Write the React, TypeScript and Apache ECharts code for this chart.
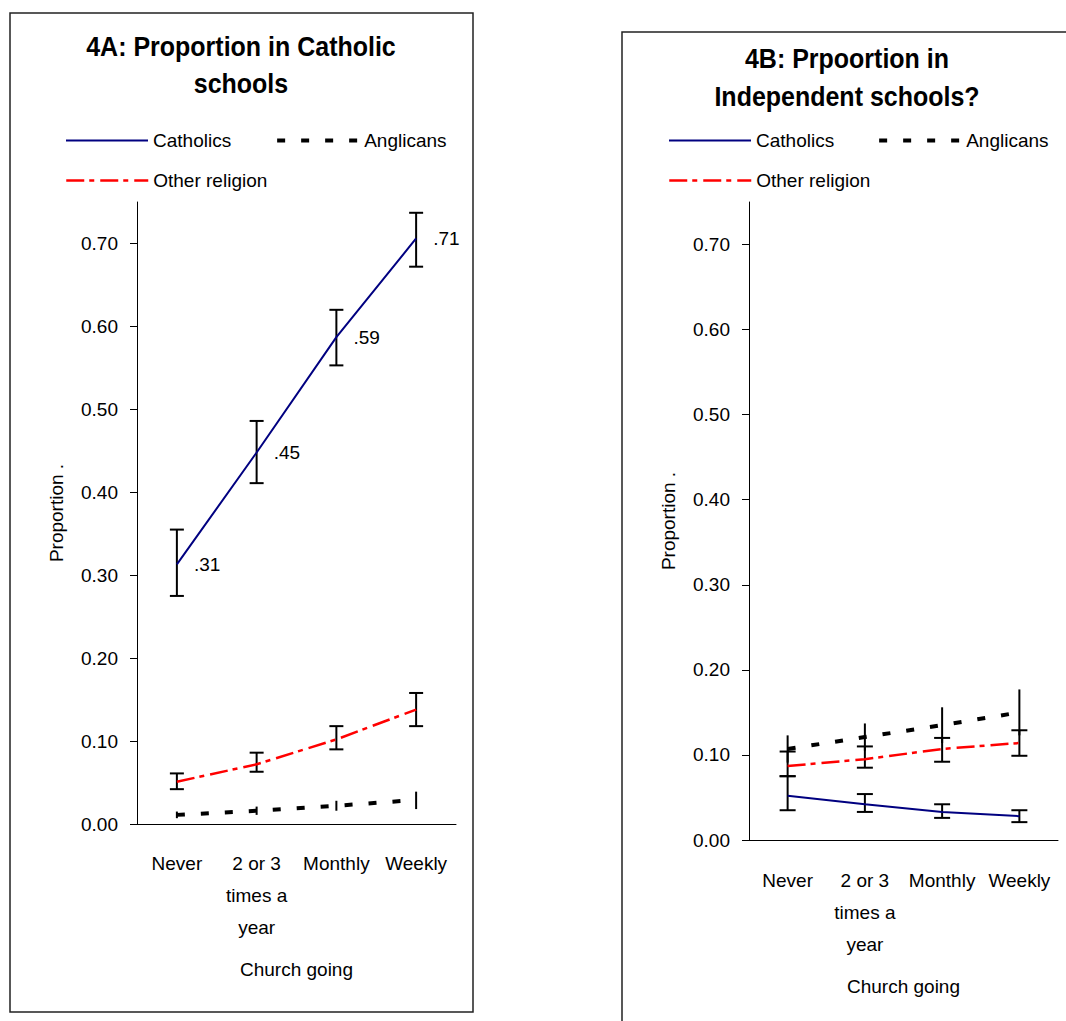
import React, { useEffect, useRef } from 'react';
import * as echarts from 'echarts';

const categories = ['Never', '2 or 3\ntimes a\nyear', 'Monthly', 'Weekly'];
const yTicks = [0, 0.1, 0.2, 0.3, 0.4, 0.5, 0.6, 0.7];
const titleA = '4A: Proportion in Catholic\nschools';
const titleB = '4B: Prpoortion in\nIndependent schools?';
const yName = 'Proportion .';
const xName = 'Church going';

// 4A: Catholic schools
const catholicA = [0.313, 0.448, 0.587, 0.706];
const catholicALow = [0.275, 0.411, 0.553, 0.672];
const catholicAHigh = [0.355, 0.486, 0.62, 0.737];
const anglicanA = [0.011, 0.016, 0.022, 0.029];
const anglicanALow = [0.007, 0.011, 0.016, 0.018];
const anglicanAHigh = [0.015, 0.021, 0.028, 0.039];
const otherA = [0.051, 0.072, 0.102, 0.138];
const otherALow = [0.042, 0.063, 0.09, 0.118];
const otherAHigh = [0.061, 0.086, 0.118, 0.158];

// 4B: Independent schools
const catholicB = [0.052, 0.042, 0.033, 0.028];
const catholicBLow = [0.035, 0.033, 0.026, 0.021];
const catholicBHigh = [0.075, 0.054, 0.042, 0.035];
const anglicanB = [0.107, 0.121, 0.135, 0.15];
const anglicanBLow = [0.091, 0.105, 0.114, 0.123];
const anglicanBHigh = [0.123, 0.137, 0.156, 0.177];
const otherB = [0.087, 0.095, 0.107, 0.114];
const otherBLow = [0.075, 0.085, 0.092, 0.099];
const otherBHigh = [0.104, 0.11, 0.12, 0.129];

const FONT = "'Liberation Sans', Arial, sans-serif";

const catholicStyle = { color: '#000080', width: 2, type: 'solid' as any };
const anglicanStyle = { color: '#000000', width: 4, type: [8, 16] as any };
const otherStyle = { color: '#ff0000', width: 2.5, type: [18, 5, 5, 6] as any };

function errorBar(cap: number) {
  return (params: any, api: any) => {
    const x = api.value(0);
    const lo = api.coord([x, api.value(1)]);
    const hi = api.coord([x, api.value(2)]);
    const style = { stroke: '#000', lineWidth: 2 };
    const children: any[] = [
      { type: 'line', shape: { x1: lo[0], y1: lo[1], x2: hi[0], y2: hi[1] }, style },
    ];
    if (cap > 0) {
      children.push({ type: 'line', shape: { x1: lo[0] - cap, y1: lo[1], x2: lo[0] + cap, y2: lo[1] }, style });
      children.push({ type: 'line', shape: { x1: hi[0] - cap, y1: hi[1], x2: hi[0] + cap, y2: hi[1] }, style });
    }
    return { type: 'group', children };
  };
}

function errData(low: number[], high: number[]) {
  return categories.map((_, i) => [i, low[i], high[i]]);
}

function xAxisCfg(gridIndex: number, margin: number, nameGap: number) {
  return {
    gridIndex,
    type: 'category',
    data: categories,
    axisLine: { lineStyle: { color: '#000', width: 1 } },
    axisTick: { length: 8, lineStyle: { color: '#000' } },
    axisLabel: { color: '#000', fontSize: 19, fontFamily: FONT, lineHeight: 32, margin, interval: 0 },
    splitLine: { show: false },
    name: xName,
    nameLocation: 'middle',
    nameGap,
    nameTextStyle: { color: '#000', fontSize: 19, fontFamily: FONT },
  };
}

function yAxisCfg(gridIndex: number) {
  return {
    gridIndex,
    type: 'value',
    min: 0,
    max: 0.75,
    interval: 0.1,
    axisLine: { show: true, lineStyle: { color: '#000', width: 1 } },
    axisTick: { show: true, length: 7, customValues: yTicks, lineStyle: { color: '#000' } },
    axisLabel: {
      color: '#000',
      fontSize: 19,
      fontFamily: FONT,
      margin: 19,
      customValues: yTicks,
      formatter: (v: number) => v.toFixed(2),
    },
    splitLine: { show: false },
    name: yName,
    nameLocation: 'middle',
    nameGap: 71,
    nameRotate: 90,
    nameTextStyle: { color: '#000', fontSize: 19, fontFamily: FONT },
  };
}

function lineSeries(name: string, data: number[], idx: number, lineStyle: any, extra: any = {}) {
  return {
    name,
    type: 'line',
    xAxisIndex: idx,
    yAxisIndex: idx,
    data,
    symbol: 'none',
    lineStyle,
    itemStyle: { color: lineStyle.color },
    z: 3,
    ...extra,
  };
}

function errSeries(low: number[], high: number[], idx: number, cap: number) {
  return {
    type: 'custom',
    xAxisIndex: idx,
    yAxisIndex: idx,
    renderItem: errorBar(cap),
    encode: { x: 0, y: [1, 2] },
    data: errData(low, high),
    z: 2,
  };
}

const legendBase = {
  itemWidth: 82,
  itemHeight: 14,
  padding: 0,
  selectedMode: false,
  textStyle: { fontSize: 19, color: '#000', fontFamily: FONT },
  lineStyle: { width: 'inherit' },
  itemStyle: { opacity: 0, color: 'rgba(0,0,0,0)', borderWidth: 0 },
};

export default function App() {
  const ref = useRef<HTMLDivElement>(null);
  useEffect(() => {
    if (!ref.current) return;
    const chart = echarts.init(ref.current, undefined, { renderer: 'svg' });
    const titleStyle = {
      fontSize: 25,
      fontWeight: 'bold',
      fontFamily: FONT,
      fill: '#000',
      align: 'center',
      verticalAlign: 'top',
    };
    const option: any = {
      animation: false,
      backgroundColor: '#fff',
      grid: [
        { left: 137, top: 202, width: 319, height: 622, containLabel: false },
        { left: 749, top: 202, width: 309, height: 638, containLabel: false },
      ],
      xAxis: [xAxisCfg(0, 23, 136), xAxisCfg(1, 24, 137)],
      yAxis: [yAxisCfg(0), yAxisCfg(1)],
      legend: [
        { ...legendBase, left: 65, top: 131, itemGap: 44, data: ['Catholics', 'Anglicans'] },
        { ...legendBase, left: 65, top: 171, data: ['Other religion'] },
        { ...legendBase, left: 668, top: 131, itemGap: 43, data: ['Catholics', 'Anglicans'] },
        { ...legendBase, left: 668, top: 171, data: ['Other religion'] },
      ],
      graphic: [
        {
          type: 'rect',
          shape: { x: 10, y: 13, width: 463, height: 999 },
          style: { fill: 'none', stroke: '#222', lineWidth: 1.5 },
          silent: true,
        },
        {
          type: 'rect',
          shape: { x: 622, y: 32, width: 600, height: 1100 },
          style: { fill: 'none', stroke: '#222', lineWidth: 1.5 },
          silent: true,
        },
        {
          type: 'text',
          x: 241,
          y: 28,
          scaleY: 1.1,
          style: { ...titleStyle, text: titleA, lineHeight: 33.6 },
        },
        {
          type: 'text',
          x: 847,
          y: 40,
          scaleY: 1.1,
          style: { ...titleStyle, text: titleB, lineHeight: 34.5 },
        },
      ],
      series: [
        errSeries(catholicALow, catholicAHigh, 0, 7),
        errSeries(otherALow, otherAHigh, 0, 7),
        errSeries(anglicanALow, anglicanAHigh, 0, 0),
        lineSeries('Catholics', catholicA, 0, catholicStyle, {
          symbol: 'circle',
          symbolSize: 2,
          showSymbol: true,
          itemStyle: { color: 'rgba(0,0,128,0)', borderWidth: 0 },
          label: {
            show: true,
            position: 'right',
            distance: 16,
            color: '#000',
            fontSize: 19,
            fontFamily: FONT,
            formatter: (p: any) => (p.value as number).toFixed(2).replace(/^0/, ''),
          },
        }),
        lineSeries('Anglicans', anglicanA, 0, anglicanStyle),
        lineSeries('Other religion', otherA, 0, otherStyle),

        errSeries(catholicBLow, catholicBHigh, 1, 8),
        errSeries(otherBLow, otherBHigh, 1, 8),
        errSeries(anglicanBLow, anglicanBHigh, 1, 0),
        lineSeries('Catholics', catholicB, 1, catholicStyle),
        lineSeries('Anglicans', anglicanB, 1, anglicanStyle),
        lineSeries('Other religion', otherB, 1, otherStyle),
      ],
    };
    chart.setOption(option);
    return () => chart.dispose();
  }, []);
  return (
    <div
      ref={ref}
      style={{ position: 'absolute', left: 0, top: 0, width: 1066, height: 1021, background: '#fff' }}
    />
  );
}
